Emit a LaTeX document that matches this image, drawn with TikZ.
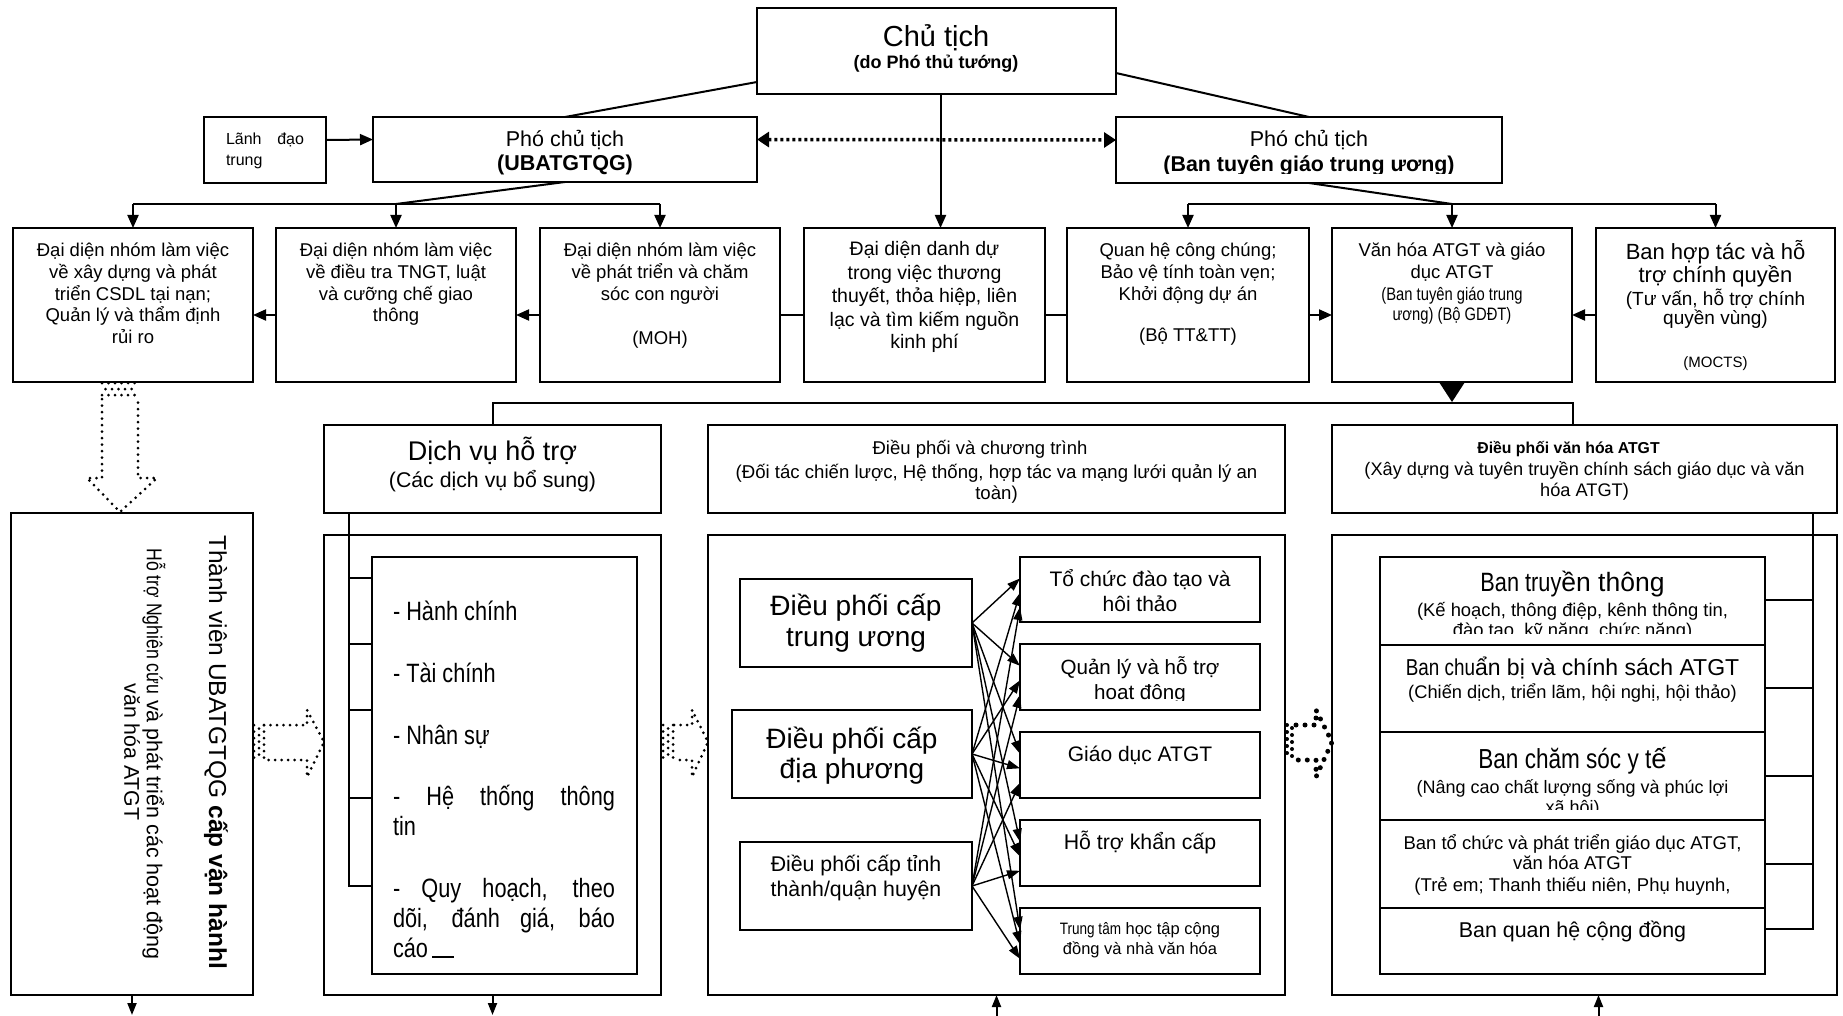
\documentclass[tikz,border=0pt]{standalone}
\usepackage{fontspec}
\setmainfont{Liberation Sans}
\newfontfamily\nar[FakeStretch=0.82]{Liberation Sans}
\usetikzlibrary{arrows.meta,calc}
\newcommand\fz[2]{\fontsize{#1}{#2}\selectfont}
\newcounter{tln}
% one line of text, placed by its baseline
\newcommand\tline[4][]{\stepcounter{tln}\node[tx,#1] (tl\arabic{tln}) at (#2,#3) {#4};}
% a framed box given by its corners
\newcommand\boxn[6][]{%
  \pgfmathsetmacro\bw{#5-#3}\pgfmathsetmacro\bh{#6-#4}%
  \pgfmathsetmacro\bcx{(#3+#5)/2}\pgfmathsetmacro\bcy{(#4+#6)/2}%
  \node[bx,minimum width=\bw pt,minimum height=\bh pt,#1] (#2) at (\bcx,\bcy) {};}
\begin{document}
\begin{tikzpicture}[x=1pt,y=-1pt,
  bx/.style={draw,line width=2.2pt,inner sep=0pt,outer sep=0pt},
  tx/.style={inner sep=0pt,outer sep=0pt,anchor=base},
  conn/.style={line width=2pt},
  tipd/.style={-{Triangle[width=11pt,length=13pt]}},
  smalltip/.style={-{Triangle[width=9pt,length=12pt]}},
  dotline/.style={line width=3pt,line cap=round,dash pattern=on 0pt off 6.5pt},
  bigdot/.style={line width=5pt,line cap=round,dash pattern=on 0pt off 9pt},
]
\fill[white] (0,0) rectangle (1843,1016);
\useasboundingbox (0,0) rectangle (1843,1016);

% ---------- top level ----------
\boxn{ct}{757}{8}{1116}{94}
\boxn{ld}{204}{117}{326}{183}
\boxn{pl}{373}{117}{757}{182}
\boxn{pr}{1116}{117}{1502}{183}

% ---------- second row ----------
\boxn{b1}{13}{228}{253}{382}
\boxn{b2}{276}{228}{516}{382}
\boxn{b3}{540}{228}{780}{382}
\boxn{b4}{804}{228}{1045}{382}
\boxn{b5}{1067}{228}{1309}{382}
\boxn{b6}{1332}{228}{1572}{382}
\boxn{b7}{1596}{228}{1835}{382}

% ---------- headers ----------
\boxn{dvh}{324}{425}{661}{513}
\boxn{dph}{708}{425}{1285}{513}
\boxn{vhh}{1332}{425}{1837}{513}

% ---------- bodies ----------
\boxn{tv}{11}{513}{253}{995}
\boxn{dvb}{324}{535}{661}{995}
\boxn{dpb}{708}{535}{1285}{995}
\boxn{vhb}{1332}{535}{1837}{995}
\boxn{lst}{372}{557}{637}{974}

\boxn{dtw}{740}{579}{972}{667}
\boxn{ddp}{732}{710}{972}{798}
\boxn{dti}{740}{842}{972}{930}
\boxn{r1}{1020}{557}{1260}{622}
\boxn{r2}{1020}{644}{1260}{710}
\boxn{r3}{1020}{732}{1260}{798}
\boxn{r4}{1020}{820}{1260}{886}
\boxn{r5}{1020}{908}{1260}{974}

\boxn{vs1}{1380}{557}{1765}{645}
\boxn{vs2}{1380}{645}{1765}{732}
\boxn{vs3}{1380}{732}{1765}{820}
\boxn{vs4}{1380}{820}{1765}{908}
\boxn{vs5}{1380}{908}{1765}{974}

% ---------- connectors, top ----------
\draw[conn,tipd] ([yshift=10pt]ld.east) -- ([yshift=10pt]pl.west);
\draw[line width=3.5pt,dash pattern=on 3pt off 3pt,
  {Triangle[width=15pt,length=12pt]}-{Triangle[width=15pt,length=12pt]}]
  ([yshift=10pt]pl.east) -- ([yshift=10pt]pr.west);
\draw[conn] ([yshift=-31pt]ct.west) -- (pl.north);
\draw[conn] ([yshift=-22pt]ct.east) -- (pr.north);
\draw[conn,tipd] ([xshift=4pt]ct.south) -- ([xshift=4pt]ct.south |- b4.north);

\foreach \i in {1,2,3} \coordinate (lb\i) at ($(b\i.north)+(0,-24)$);
\draw[conn] (pl.south) -- (lb2);
\draw[conn] (lb1) -- (lb3);
\foreach \i in {1,2,3} \draw[conn,tipd] (lb\i) -- (b\i.north);

\foreach \i in {5,6,7} \coordinate (rb\i) at ($(b\i.north)+(0,-24)$);
\draw[conn] (pr.south) -- (rb6);
\draw[conn] (rb5) -- (rb7);
\foreach \i in {5,6,7} \draw[conn,tipd] (rb\i) -- (b\i.north);

\draw[conn,tipd] ([yshift=-10pt]b3.west) -- ([yshift=-10pt]b2.east);
\draw[conn,tipd] ([yshift=-10pt]b2.west) -- ([yshift=-10pt]b1.east);
\draw[conn] ([yshift=-10pt]b3.east) -- ([yshift=-10pt]b4.west);
\draw[conn] ([yshift=-10pt]b4.east) -- ([yshift=-10pt]b5.west);
\draw[conn,tipd] ([yshift=-10pt]b5.east) -- ([yshift=-10pt]b6.west);
\draw[conn,tipd] ([yshift=-10pt]b7.west) -- ([yshift=-10pt]b6.east);

\fill ([xshift=-13pt]b6.south) -- ([xshift=13pt]b6.south) -- ($(b6.south)+(0,20)$) -- cycle;

% ---------- main bus to the headers ----------
\coordinate (mb) at ($(dvh.north)+(0,-22)$);
\coordinate (mbr) at ($(vhh.north)+(-12,-22)$);
\draw[conn] (dvh.north) -- (mb) -- (mbr) -- (mbr |- vhh.north);

% side rails
\coordinate (dl0) at ([xshift=25pt]dvh.south west);
\draw[conn] (dl0) -- (dl0 |- 0,886) -- (lst.west |- 0,886);
\foreach \ty in {578,644,710,798} \draw[conn] (dl0 |- 0,\ty) -- (lst.west |- 0,\ty);
\coordinate (vl0) at ([xshift=-24pt]vhh.south east);
\draw[conn] (vl0) -- (vl0 |- 0,929) -- (vs5.east |- 0,929);
\foreach \ty in {600,688,776,864} \draw[conn] (vl0 |- 0,\ty) -- (vs1.east |- 0,\ty);

% bottom arrows
\coordinate (tvo) at ($(tv.south)+(0,20)$);
\coordinate (dvo) at ($(dvb.south)+(0,20)$);
\coordinate (dpi) at ($(dpb.south)+(0,21)$);
\coordinate (vhi) at ($(vhb.south)+(14,21)$);
\draw[conn,smalltip] (tv.south) -- (tvo);
\draw[conn,smalltip] (dvb.south) -- (dvo);
\draw[conn,smalltip] (dpi) -- (dpb.south);
\draw[conn,smalltip] (vhi) -- (vhi |- vhb.south);

% fan of arrows between the coordination levels and the activities
\foreach \s [count=\si from 0] in {dtw,ddp,dti}
  \foreach \t in {r1,r2,r3,r4,r5}{
    \pgfmathsetmacro\fr{0.33+0.22*\si}
    \draw[line width=1.4pt,-{Triangle[width=9pt,length=13pt]}]
      (\s.east) -- ($(\t.north west)!\fr!(\t.south west)$);
  }

% ---------- hollow dotted block arrows ----------
\draw[dotline] (102,399) -- (102,478) -- (87,478) -- (120,512) -- (157,478) -- (138,478) -- (138,399);
\foreach \hy/\ph in {383/0,389/3,395/0}
  \draw[line width=3pt,line cap=round,dash pattern=on 0pt off 6.5pt,dash phase=\ph pt] (102,\hy) -- (138,\hy);

\draw[dotline] (264,725) -- (307,725) -- (307,710) -- (324,742) -- (307,777) -- (307,760) -- (264,760);
\foreach \hx/\ph in {254/0,259/3,264/0}
  \draw[line width=3pt,line cap=round,dash pattern=on 0pt off 6.5pt,dash phase=\ph pt] (\hx,725) -- (\hx,760);

\draw[dotline] (674,725) -- (692,725) -- (692,710) -- (708,742) -- (692,777) -- (692,760) -- (674,760);
\foreach \hx/\ph in {663/0,668/3,673/0}
  \draw[line width=3pt,line cap=round,dash pattern=on 0pt off 6.5pt,dash phase=\ph pt] (\hx,725) -- (\hx,760);

\draw[bigdot] (1296,725) -- (1316,725) -- (1316,710) -- (1332,742) -- (1316,777) -- (1316,760) -- (1296,760);
\foreach \hx/\ph in {1287/0,1292/4}
  \draw[line width=4pt,line cap=round,dash pattern=on 0pt off 7pt,dash phase=\ph pt] (\hx,725) -- (\hx,760);

% ---------- texts: top ----------
\tline{936}{47}{\fz{29}{33}Chủ tịch}
\tline{936}{69}{\fz{18}{21}\bfseries (do Phó thủ tướng)}
\tline[anchor=base west]{226}{145}{\fz{16}{19}\makebox[78pt][s]{Lãnh đạo}}
\tline[anchor=base west]{226}{166}{\fz{16}{19}trung}
\tline{565}{147}{\fz{21.5}{25}Phó chủ tịch}
\tline{565}{171}{\fz{21.5}{25}\bfseries (UBATGTQG)}
\tline{1309}{147}{\fz{21.5}{25}Phó chủ tịch}
\begin{scope}
  \clip (1118,119) rectangle (1500,174);
  \tline{1309}{172}{\fz{21.4}{25}\bfseries (Ban tuyên giáo trung ương)}
\end{scope}

% ---------- texts: second row ----------
\tline{133}{256}{\fz{18.5}{22}Đại diện nhóm làm việc}
\tline{133}{278}{\fz{18.5}{22}về xây dựng và phát}
\tline{133}{300}{\fz{18.5}{22}triển CSDL tại nạn;}
\tline{133}{321}{\fz{18.5}{22}Quản lý và thẩm định}
\tline{133}{343}{\fz{18.5}{22}rủi ro}

\tline{396}{256}{\fz{18.5}{22}Đại diện nhóm làm việc}
\tline{396}{278}{\fz{18.5}{22}về điều tra TNGT, luật}
\tline{396}{300}{\fz{18.5}{22}và cưỡng chế giao}
\tline{396}{321}{\fz{18.5}{22}thông}

\tline{660}{256}{\fz{18.5}{22}Đại diện nhóm làm việc}
\tline{660}{278}{\fz{18.5}{22}về phát triển và chăm}
\tline{660}{300}{\fz{18.5}{22}sóc con người}
\tline{660}{344}{\fz{18.5}{22}(MOH)}

\tline{924.5}{255}{\fz{19.5}{23}Đại diện danh dự}
\tline{924.5}{279}{\fz{19.5}{23}trong việc thương}
\tline{924.5}{302}{\fz{19.5}{23}thuyết, thỏa hiệp, liên}
\tline{924.5}{326}{\fz{19.5}{23}lạc và tìm kiếm nguồn}
\tline{924.5}{348}{\fz{19.5}{23}kinh phí}

\tline{1188}{256}{\fz{18.5}{22}Quan hệ công chúng;}
\tline{1188}{278}{\fz{18.5}{22}Bảo vệ tính toàn vẹn;}
\tline{1188}{300}{\fz{18.5}{22}Khởi động dự án}
\tline{1188}{341}{\fz{18.5}{22}(Bộ TT\&TT)}

\tline{1452}{256}{\fz{18.5}{22}Văn hóa ATGT và giáo}
\tline{1452}{278}{\fz{18.5}{22}dục ATGT}
\tline{1452}{300}{\nar\fz{18}{20}(Ban tuyên giáo trung}
\tline{1452}{320}{\nar\fz{18}{20}ương) (Bộ GDĐT)}

\tline{1715.5}{259}{\fz{22}{25}Ban hợp tác và hỗ}
\tline{1715.5}{283}{\fz{22}{25}trợ chính quyền}
\tline{1715.5}{305}{\fz{19}{22}(Tư vấn, hỗ trợ chính}
\tline{1715.5}{324}{\fz{19}{22}quyền vùng)}
\tline{1715.5}{367}{\fz{15}{18}(MOCTS)}

% ---------- texts: headers ----------
\tline{492.5}{460}{\fz{27}{31}Dịch vụ hỗ trợ}
\tline{492.5}{487}{\fz{21.3}{25}(Các dịch vụ bổ sung)}
\tline{980}{454}{\fz{18.5}{22}Điều phối và chương trình}
\tline{996.5}{478}{\fz{18.6}{22}(Đối tác chiến lược, Hệ thống, hợp tác va mạng lưới quản lý an}
\tline{996.5}{499}{\fz{18.6}{22}toàn)}
\tline{1568.5}{453}{\fz{15.8}{20}\bfseries Điều phối văn hóa ATGT}
\tline{1584.5}{475}{\fz{18.2}{21}(Xây dựng và tuyên truyền chính sách giáo dục và văn}
\tline{1584.5}{496}{\fz{18.2}{21}hóa ATGT)}

% ---------- texts: members column ----------
\node[rotate=-90,inner sep=0pt] (tv1) at (216,752) {\fz{24.5}{28}Thành viên UBATGTQG \textbf{cấp vận hànhl}};
\node[rotate=-90,inner sep=0pt] (tv2) at (154,754) {\fz{21.5}{24}{\nar Hỗ trợ Nghiên cứu} và phát triển các hoạt động};
\node[rotate=-90,inner sep=0pt] (tv3) at (132,752) {\fz{21.3}{24}văn hóa ATGT};

% ---------- texts: support services list ----------
\tline[anchor=base west]{393}{620}{\nar\fz{26.5}{30}- Hành chính}
\tline[anchor=base west]{393}{682}{\nar\fz{26.5}{30}- Tài chính}
\tline[anchor=base west]{393}{744}{\nar\fz{26.5}{30}- Nhân sự}
\tline[anchor=base west]{393}{805}{\nar\fz{26.5}{30}\makebox[222pt][s]{- Hệ thống thông}}
\tline[anchor=base west]{393}{835}{\nar\fz{26.5}{30}tin}
\tline[anchor=base west]{393}{897}{\nar\fz{26.5}{30}\makebox[222pt][s]{- Quy hoạch, theo}}
\tline[anchor=base west]{393}{927}{\nar\fz{26.5}{30}\makebox[222pt][s]{dõi, đánh giá, báo}}
\tline[anchor=base west]{393}{957}{\nar\fz{26.5}{30}cáo\,\rule[-1pt]{22pt}{1.6pt}}

% ---------- texts: coordination ----------
\tline{856}{615}{\fz{28}{31}Điều phối cấp}
\tline{856}{646}{\fz{28}{31}trung ương}
\tline{852}{748}{\fz{28}{31}Điều phối cấp}
\tline{852}{778}{\fz{28}{31}địa phương}
\tline{856}{871}{\fz{21.3}{25}Điều phối cấp tỉnh}
\tline{856}{896}{\fz{21.3}{25}thành/quận huyện}

\tline{1140}{586}{\fz{21}{25}Tổ chức đào tạo và}
\tline{1140}{611}{\fz{21}{25}hôi thảo}
\begin{scope}
  \clip (1022,646) rectangle (1258,700);
  \tline{1140}{674}{\fz{20.6}{25}Quản lý và hỗ trợ}
  \tline{1140}{699}{\fz{20.6}{25}hoat đông}
\end{scope}
\tline{1140}{761}{\fz{21}{25}Giáo dục ATGT}
\tline{1140}{849}{\fz{21.3}{25}Hỗ trợ khẩn cấp}
\begin{scope}
  \clip (1022,910) rectangle (1258,962);
  \tline{1140}{934}{\fz{16.5}{20}{\nar Trung tâm} học tập cộng}
  \tline{1140}{954}{\fz{16.5}{20}đồng và nhà văn hóa}
\end{scope}

% ---------- texts: culture boards ----------
\tline{1572.5}{591}{\fz{26.5}{30}{\nar Ban truy}ền thông}
\begin{scope}
  \clip (1382,559) rectangle (1763,633);
  \tline{1572.5}{616}{\fz{18.4}{20}(Kế hoạch, thông điệp, kênh thông tin,}
  \tline{1572.5}{636}{\fz{18.4}{20}đào tạo, kỹ năng, chức năng)}
\end{scope}
\tline{1572.5}{675}{\fz{23}{27}{\nar Ban chu}ẩn bị và chính sách ATGT}
\tline{1572.5}{698}{\fz{18.3}{20}(Chiến dịch, triển lãm, hội nghị, hội thảo)}
\tline{1572.5}{768}{\fz{27.5}{30}{\nar Ban chăm sóc y t}ế}
\begin{scope}
  \clip (1382,734) rectangle (1763,809);
  \tline{1572.5}{793}{\fz{18}{20}(Nâng cao chất lượng sống và phúc lợi}
  \tline{1572.5}{813}{\fz{18}{20}xã hội)}
\end{scope}
\tline{1572.5}{849}{\fz{18.5}{20}Ban tổ chức và phát triển giáo dục ATGT,}
\tline{1572.5}{869}{\fz{18.5}{20}văn hóa ATGT}
\tline{1572.5}{891}{\fz{18.5}{20}(Trẻ em; Thanh thiếu niên, Phụ huynh,}
\tline{1572.5}{937}{\fz{21.4}{25}Ban quan hệ cộng đồng}
\end{tikzpicture}
\end{document}
